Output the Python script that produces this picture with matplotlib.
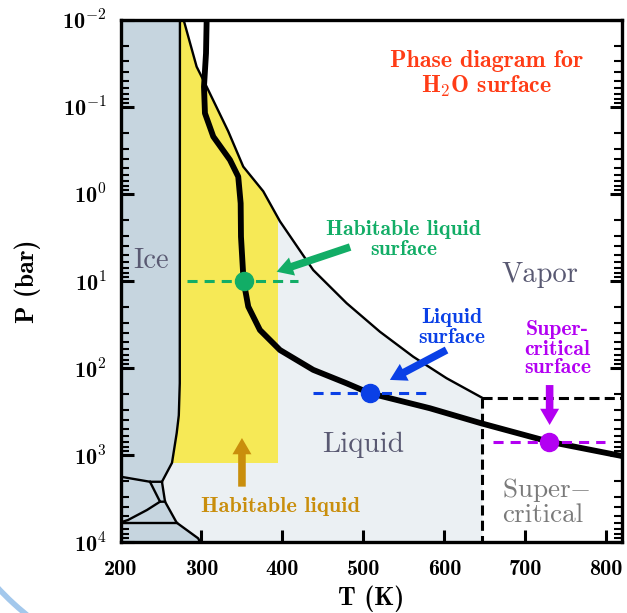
import numpy as np
import matplotlib
matplotlib.use('Agg')
import matplotlib.pyplot as plt
from matplotlib.patches import Polygon, Arc
from matplotlib.transforms import IdentityTransform
from matplotlib.ticker import LogLocator, NullFormatter

plt.rcParams['mathtext.fontset'] = 'cm'

# phase boundaries (T in K, P in bar)
melt_T = [273.4, 273.2, 272.0, 269.4, 263.6, 251.2, 255.0, 269.4, 296.0, 298.0]
melt_P = [0.01, 150, 350, 560, 1230, 2030, 3440, 6000, 9080, 10000]

vap_T = [278.0, 294.0, 306.4, 333.0, 351.6, 376.3, 396.9, 438.0, 479.3, 520.4, 561.5, 602.7, 647.0]
vap_P = [0.01, 0.0344, 0.0585, 0.19, 0.485, 0.931, 2.06, 7.48, 18.0, 38.3, 74.1, 131, 220.6]

crit_T, crit_P = 647.0, 220.6

# high pressure ice boundaries
ice_a_T = [200, 236.4, 251.2]
ice_a_P = [1775, 2030, 2030]
ice_b_T = [236.4, 248.8, 255.0]
ice_b_P = [2030, 3440, 3440]
ice_c_T = [248.8, 232.7, 209.3, 200]
ice_c_P = [3440, 4285, 5585, 5950]
ice_d_T = [200, 269.4]
ice_d_P = [6000, 6000]

# habitable liquid box
hab_T, hab_P = 395, 1230

# surface profile (thick curve)
surf_T = [306.4, 305.6, 303.1, 304.3, 314.6, 335.2, 345.4, 348.4, 348.8, 352.0,
          357.8, 372.2, 396.9, 438.0, 479.3, 508.0, 582.1, 645.9, 729.4, 820.0]
surf_P = [0.01, 0.0242, 0.0585, 0.118, 0.219, 0.406, 0.632, 1.28, 3.10, 10.0,
          19.7, 36.6, 62.1, 105, 150, 195, 290, 433, 703, 1030]

# surface points and their dashed ranges
pt_T = [352, 508, 729]
pt_P = [10, 195, 703]
pt_Tlo = [282, 438, 660]
pt_Thi = [419, 577, 798]
pt_col = ['#12ad66', '#0a40e6', '#b300f2']

x_ticks = [200, 300, 400, 500, 600, 700, 800]
y_exps = [-2, -1, 0, 1, 2, 3, 4]

ice_col = '#c6d5df'
liq_col = '#ebf0f3'
yel_col = '#f6e956'
lab_col = '#595972'
org_col = '#c98e0c'

fig = plt.figure(figsize=(6.27, 6.13), dpi=100)
ax = fig.add_axes([0.1922, 0.1158, 0.8006, 0.8516])
ax.set_yscale('log')
ax.set_xlim(200, 820)
ax.set_ylim(1e4, 1e-2)

# filled regions
liquid = Polygon([(200, 0.01)] + list(zip(vap_T, vap_P)) + [(crit_T, 1e4), (200, 1e4)],
                 closed=True, fc=liq_col, ec='none', zorder=0)
ax.add_patch(liquid)
hab = ax.fill_between([200, hab_T], 0.01, hab_P, color=yel_col, lw=0, zorder=0.5)
hab.set_clip_path(liquid)
ice = Polygon([(200, 0.01)] + list(zip(melt_T, melt_P)) + [(200, 1e4)],
              closed=True, fc=ice_col, ec='none', zorder=1)
ax.add_patch(ice)

# boundaries
ax.plot(melt_T, melt_P, color='k', lw=1.7, zorder=2)
ax.plot(vap_T, vap_P, color='k', lw=1.7, zorder=2)
for tt, pp in [(ice_a_T, ice_a_P), (ice_b_T, ice_b_P), (ice_c_T, ice_c_P), (ice_d_T, ice_d_P)]:
    ax.plot(tt, pp, color='k', lw=1.7, zorder=2)
ax.plot([crit_T, 820], [crit_P, crit_P], color='k', lw=2.2, ls=(0, (3.3, 1.7)), zorder=2)
ax.plot([crit_T, crit_T], [crit_P, 1e4], color='k', lw=2.2, ls=(0, (3.3, 1.7)), zorder=2)

# surface profile
ax.plot(surf_T, surf_P, color='k', lw=4.2, zorder=3, solid_capstyle='butt')

for T, P, lo, hi, c in zip(pt_T, pt_P, pt_Tlo, pt_Thi, pt_col):
    ax.plot([lo, hi], [P, P], color=c, lw=2.2, ls=(0, (3.3, 2.3)), zorder=4)
    ax.plot(T, P, 'o', color=c, ms=13, zorder=5)

def arrow(tail, tip, c):
    ax.annotate('', xy=tip, xytext=tail,
                arrowprops=dict(arrowstyle='simple,head_length=0.9,head_width=1.05,tail_width=0.42',
                                mutation_scale=13, fc=c, ec='none', lw=0,
                                shrinkA=0, shrinkB=0), zorder=6)

arrow((483.6, 4.07), (392.8, 7.82), pt_col[0])
arrow((602.7, 62.1), (532.7, 137), pt_col[1])
arrow((730, 157), (730, 452), pt_col[2])
arrow((350, 2310), (350, 638), org_col)

# labels
bold = dict(family='cmb10', ha='center', va='baseline', zorder=7)
reg = dict(family='cmr10', va='baseline', zorder=7, color=lab_col)

ax.text(652, 0.0344, 'Phase diagram for', color='#ff3c16', fontsize=17.3, **bold)
ax.text(652, 0.0697, r'H$_\mathbf{2}$O surface', color='#ff3c16', fontsize=17.3, **bold)
ax.text(550, 2.96, 'Habitable liquid', color=pt_col[0], fontsize=15.7, **bold)
ax.text(550, 5.02, 'surface', color=pt_col[0], fontsize=15.7, **bold)
ax.text(609, 30.6, 'Liquid', color=pt_col[1], fontsize=15.7, **bold)
ax.text(609, 51.2, 'surface', color=pt_col[1], fontsize=15.7, **bold)
ax.text(740, 41.8, 'Super-', color=pt_col[2], fontsize=15.7, **bold)
ax.text(740, 71.0, 'critical', color=pt_col[2], fontsize=15.7, **bold)
ax.text(740, 115, 'surface', color=pt_col[2], fontsize=15.7, **bold)
ax.text(398, 4487, 'Habitable liquid', color=org_col, fontsize=16.2, **bold)

ax.text(237.7, 7.14, 'Ice', ha='center', fontsize=20.5, **reg)
ax.text(718, 10.2, 'Vapor', ha='center', fontsize=20.5, **reg)
ax.text(500, 916, 'Liquid', ha='center', fontsize=21, **reg)
reg['color'] = '#7a7a7a'
ax.text(671, 3013, r'Super$-$', ha='left', fontsize=19.5, **reg)
ax.text(671, 5848, 'critical', ha='left', fontsize=19.5, **reg)

# axes styling
ax.set_xticks(x_ticks)
ax.set_xticklabels([str(t) for t in x_ticks], family='cmb10')
ax.set_yticks([10.0 ** e for e in y_exps])
ax.set_yticklabels([r'10$^{\mathbf{%d}}$' % e for e in y_exps], family='cmb10')
ax.yaxis.set_minor_locator(LogLocator(base=10, subs=np.arange(2, 10), numticks=20))
ax.yaxis.set_minor_formatter(NullFormatter())
ax.tick_params(axis='x', which='major', direction='in', top=False, bottom=True,
               length=9, width=2.2, labelsize=16, pad=13)
ax.tick_params(axis='y', which='major', direction='in', left=True, right=True,
               length=9, width=2.2, labelsize=16, pad=10)
ax.tick_params(axis='y', which='minor', direction='in', left=True, right=True,
               length=5.5, width=1.5)
for s in ax.spines.values():
    s.set_linewidth(2.4)
    s.set_zorder(8)

ax.set_xlabel('T (K)', family='cmb10', fontsize=18.4)
ax.set_ylabel('P (bar)', family='cmb10', fontsize=18.4)
ax.xaxis.set_label_coords(0.5, -0.084)
ax.yaxis.set_label_coords(-0.158, 0.5)

# light blue arc in the lower left corner of the slide
fig.add_artist(Arc((200, 213), 552, 552, theta1=217, theta2=238, color='#a3c8ec',
                   lw=4, transform=IdentityTransform(), clip_on=False))

fig.savefig('out.png', dpi=100)
